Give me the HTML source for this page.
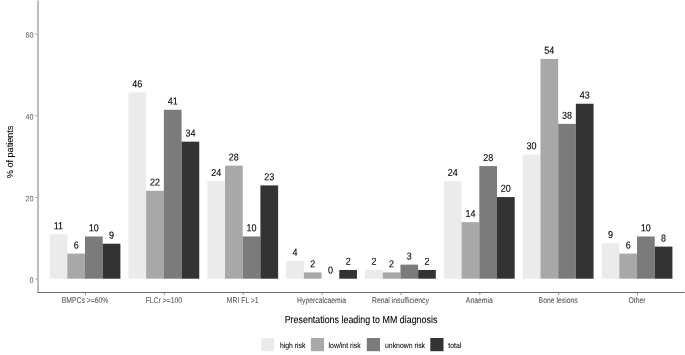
<!DOCTYPE html>
<html><head><meta charset="utf-8"><title>chart</title>
<style>
html,body{margin:0;padding:0;background:#fff;}
body{width:685px;height:355px;overflow:hidden;}
svg{display:block;font-family:"Liberation Sans",sans-serif;will-change:transform;}
.bl{font-size:9px;fill:#000;stroke:#000;stroke-width:0.1px;text-anchor:middle;}
.xt{font-size:7.12px;fill:#555;stroke:#555;stroke-width:0.06px;text-anchor:middle;}
.yt{font-size:7.4px;fill:#5a5a5a;text-anchor:end;}
.ti{font-size:8.9px;fill:#000;stroke:#000;stroke-width:0.08px;text-anchor:middle;}
.lg{font-size:6.95px;fill:#000;stroke:#000;stroke-width:0.05px;}
</style></head><body>
<svg width="685" height="355" viewBox="0 0 685 355">
<rect width="685" height="355" fill="#fff"/>
<rect x="49.60" y="234.33" width="17.70" height="44.37" fill="#EBEBEB"/>
<text class="bl" transform="translate(58.45 229.13) rotate(0.03) scale(1.0 1.12)">11</text>
<rect x="67.30" y="253.60" width="17.70" height="25.10" fill="#A8A8A8"/>
<text class="bl" transform="translate(76.15 248.40) rotate(0.03) scale(1.0 1.12)">6</text>
<rect x="85.00" y="236.49" width="17.70" height="42.21" fill="#7B7B7B"/>
<text class="bl" transform="translate(93.85 231.29) rotate(0.03) scale(1.0 1.12)">10</text>
<rect x="102.70" y="243.72" width="17.70" height="34.98" fill="#333333"/>
<text class="bl" transform="translate(111.55 238.52) rotate(0.03) scale(1.0 1.12)">9</text>
<rect x="128.46" y="92.36" width="17.70" height="186.34" fill="#EBEBEB"/>
<text class="bl" transform="translate(137.31 87.16) rotate(0.03) scale(1.0 1.12)">46</text>
<rect x="146.16" y="190.77" width="17.70" height="87.93" fill="#A8A8A8"/>
<text class="bl" transform="translate(155.01 185.57) rotate(0.03) scale(1.0 1.12)">22</text>
<rect x="163.86" y="109.79" width="17.70" height="168.91" fill="#7B7B7B"/>
<text class="bl" transform="translate(172.71 104.59) rotate(0.03) scale(1.0 1.12)">41</text>
<rect x="181.56" y="141.67" width="17.70" height="137.03" fill="#333333"/>
<text class="bl" transform="translate(190.41 136.47) rotate(0.03) scale(1.0 1.12)">34</text>
<rect x="207.32" y="181.10" width="17.70" height="97.60" fill="#EBEBEB"/>
<text class="bl" transform="translate(216.17 175.90) rotate(0.03) scale(1.0 1.12)">24</text>
<rect x="225.02" y="165.67" width="17.70" height="113.03" fill="#A8A8A8"/>
<text class="bl" transform="translate(233.87 160.47) rotate(0.03) scale(1.0 1.12)">28</text>
<rect x="242.72" y="236.49" width="17.70" height="42.21" fill="#7B7B7B"/>
<text class="bl" transform="translate(251.57 231.29) rotate(0.03) scale(1.0 1.12)">10</text>
<rect x="260.42" y="185.39" width="17.70" height="93.31" fill="#333333"/>
<text class="bl" transform="translate(269.27 180.19) rotate(0.03) scale(1.0 1.12)">23</text>
<rect x="286.18" y="260.94" width="17.70" height="17.76" fill="#EBEBEB"/>
<text class="bl" transform="translate(295.03 255.74) rotate(0.03) scale(1.0 1.12)">4</text>
<rect x="303.88" y="272.41" width="17.70" height="6.29" fill="#A8A8A8"/>
<text class="bl" transform="translate(312.73 267.21) rotate(0.03) scale(1.0 1.12)">2</text>
<text class="bl" transform="translate(330.43 273.50) rotate(0.03) scale(1.0 1.12)">0</text>
<rect x="339.28" y="269.96" width="17.70" height="8.74" fill="#333333"/>
<text class="bl" transform="translate(348.13 264.76) rotate(0.03) scale(1.0 1.12)">2</text>
<rect x="365.04" y="269.84" width="17.70" height="8.86" fill="#EBEBEB"/>
<text class="bl" transform="translate(373.89 264.64) rotate(0.03) scale(1.0 1.12)">2</text>
<rect x="382.74" y="272.41" width="17.70" height="6.29" fill="#A8A8A8"/>
<text class="bl" transform="translate(391.59 267.21) rotate(0.03) scale(1.0 1.12)">2</text>
<rect x="400.44" y="264.62" width="17.70" height="14.08" fill="#7B7B7B"/>
<text class="bl" transform="translate(409.29 259.42) rotate(0.03) scale(1.0 1.12)">3</text>
<rect x="418.14" y="269.96" width="17.70" height="8.74" fill="#333333"/>
<text class="bl" transform="translate(426.99 264.76) rotate(0.03) scale(1.0 1.12)">2</text>
<rect x="443.90" y="181.10" width="17.70" height="97.60" fill="#EBEBEB"/>
<text class="bl" transform="translate(452.75 175.90) rotate(0.03) scale(1.0 1.12)">24</text>
<rect x="461.60" y="222.16" width="17.70" height="56.54" fill="#A8A8A8"/>
<text class="bl" transform="translate(470.45 216.96) rotate(0.03) scale(1.0 1.12)">14</text>
<rect x="479.30" y="166.08" width="17.70" height="112.62" fill="#7B7B7B"/>
<text class="bl" transform="translate(488.15 160.88) rotate(0.03) scale(1.0 1.12)">28</text>
<rect x="497.00" y="197.06" width="17.70" height="81.64" fill="#333333"/>
<text class="bl" transform="translate(505.85 191.86) rotate(0.03) scale(1.0 1.12)">20</text>
<rect x="522.76" y="154.48" width="17.70" height="124.22" fill="#EBEBEB"/>
<text class="bl" transform="translate(531.61 149.28) rotate(0.03) scale(1.0 1.12)">30</text>
<rect x="540.46" y="58.88" width="17.70" height="219.82" fill="#A8A8A8"/>
<text class="bl" transform="translate(549.31 53.68) rotate(0.03) scale(1.0 1.12)">54</text>
<rect x="558.16" y="123.87" width="17.70" height="154.83" fill="#7B7B7B"/>
<text class="bl" transform="translate(567.01 118.67) rotate(0.03) scale(1.0 1.12)">38</text>
<rect x="575.86" y="103.75" width="17.70" height="174.95" fill="#333333"/>
<text class="bl" transform="translate(584.71 98.55) rotate(0.03) scale(1.0 1.12)">43</text>
<rect x="601.62" y="243.19" width="17.70" height="35.51" fill="#EBEBEB"/>
<text class="bl" transform="translate(610.47 237.99) rotate(0.03) scale(1.0 1.12)">9</text>
<rect x="619.32" y="253.60" width="17.70" height="25.10" fill="#A8A8A8"/>
<text class="bl" transform="translate(628.17 248.40) rotate(0.03) scale(1.0 1.12)">6</text>
<rect x="637.02" y="236.49" width="17.70" height="42.21" fill="#7B7B7B"/>
<text class="bl" transform="translate(645.87 231.29) rotate(0.03) scale(1.0 1.12)">10</text>
<rect x="654.72" y="246.62" width="17.70" height="32.08" fill="#333333"/>
<text class="bl" transform="translate(663.57 241.42) rotate(0.03) scale(1.0 1.12)">8</text>
<rect x="37" y="0.5" width="2" height="292.2" fill="#bcbcbc"/>
<rect x="37.6" y="292" width="647" height="1.0" fill="#686868"/>
<rect x="35.3" y="278.65" width="1.9" height="0.9" fill="#999"/>
<text class="yt" transform="translate(33.60 282.80) rotate(0.03) scale(0.98 1.05)">0</text>
<rect x="35.3" y="196.99" width="1.9" height="0.9" fill="#999"/>
<text class="yt" transform="translate(33.60 201.14) rotate(0.03) scale(0.98 1.05)">20</text>
<rect x="35.3" y="115.33" width="1.9" height="0.9" fill="#999"/>
<text class="yt" transform="translate(33.60 119.48) rotate(0.03) scale(0.98 1.05)">40</text>
<rect x="35.3" y="33.67" width="1.9" height="0.9" fill="#999"/>
<text class="yt" transform="translate(33.60 37.82) rotate(0.03) scale(0.98 1.05)">60</text>
<rect x="85.00" y="293" width="1.0" height="2.0" fill="#999"/>
<text class="xt" transform="translate(85.00 303.10) rotate(0.03) scale(0.96 1.15)">BMPCs >=60%</text>
<rect x="163.86" y="293" width="1.0" height="2.0" fill="#999"/>
<text class="xt" transform="translate(163.86 303.10) rotate(0.03) scale(0.96 1.15)">FLCr >=100</text>
<rect x="242.72" y="293" width="1.0" height="2.0" fill="#999"/>
<text class="xt" transform="translate(242.72 303.10) rotate(0.03) scale(0.96 1.15)">MRI FL >1</text>
<rect x="321.58" y="293" width="1.0" height="2.0" fill="#999"/>
<text class="xt" transform="translate(321.58 303.10) rotate(0.03) scale(0.96 1.15)">Hypercalcaemia</text>
<rect x="400.44" y="293" width="1.0" height="2.0" fill="#999"/>
<text class="xt" transform="translate(400.44 303.10) rotate(0.03) scale(0.96 1.15)">Renal insufficiency</text>
<rect x="479.30" y="293" width="1.0" height="2.0" fill="#999"/>
<text class="xt" transform="translate(479.30 303.10) rotate(0.03) scale(0.96 1.15)">Anaemia</text>
<rect x="558.16" y="293" width="1.0" height="2.0" fill="#999"/>
<text class="xt" transform="translate(558.16 303.10) rotate(0.03) scale(0.96 1.15)">Bone lesions</text>
<rect x="637.02" y="293" width="1.0" height="2.0" fill="#999"/>
<text class="xt" transform="translate(637.02 303.10) rotate(0.03) scale(0.96 1.15)">Other</text>
<text class="ti" transform="translate(361.00 323.30) rotate(0.03) scale(1.0 1.15)">Presentations leading to MM diagnosis</text>
<text class="ti" style="font-size:9.08px;stroke-width:0.08px" transform="translate(12.5,151.9) rotate(-90)">% of patients</text>
<rect x="261.1" y="338.0" width="13.2" height="13.2" fill="#EBEBEB"/>
<text class="lg" transform="translate(279.90 347.90) rotate(0.03) scale(0.99 1.12)">high risk</text>
<rect x="310.9" y="338.0" width="13.2" height="13.2" fill="#A8A8A8"/>
<text class="lg" transform="translate(328.60 347.90) rotate(0.03) scale(0.99 1.12)">low/int risk</text>
<rect x="366.8" y="338.0" width="13.2" height="13.2" fill="#7B7B7B"/>
<text class="lg" transform="translate(385.00 347.90) rotate(0.03) scale(0.99 1.12)">unknown risk</text>
<rect x="430.3" y="338.0" width="13.2" height="13.2" fill="#333333"/>
<text class="lg" transform="translate(448.30 347.90) rotate(0.03) scale(0.99 1.12)">total</text>
</svg></body></html>
